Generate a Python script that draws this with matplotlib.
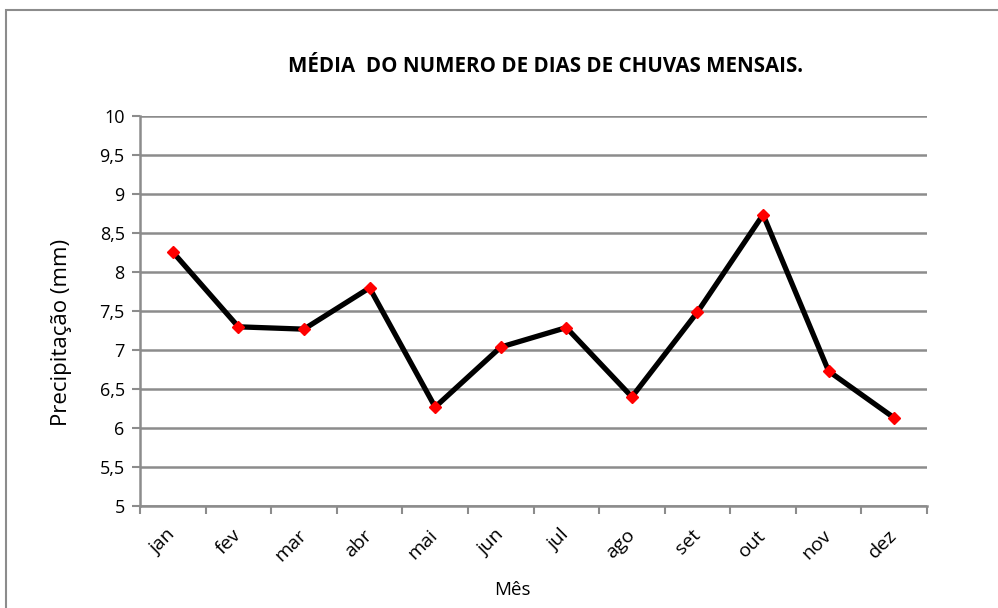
import matplotlib.pyplot as plt
from matplotlib.patches import Rectangle
import numpy as np

# dados
meses = ["jan", "fev", "mar", "abr", "mai", "jun", "jul", "ago", "set", "out", "nov", "dez"]
chuva = [8.26, 7.30, 7.27, 7.80, 6.27, 7.04, 7.29, 6.40, 7.49, 8.74, 6.73, 6.13]
yticks = [5, 5.5, 6, 6.5, 7, 7.5, 8, 8.5, 9, 9.5, 10]
ylabels = ["5", "5,5", "6", "6,5", "7", "7,5", "8", "8,5", "9", "9,5", "10"]

plt.rcParams['font.family'] = ['Open Sans', 'DejaVu Sans']

fig = plt.figure(figsize=(9.98, 6.08), dpi=100)
ax = fig.add_axes([0.1403, 0.1678, 0.7886, 0.6406])

# borda externa do grafico
fig.patches.append(Rectangle((6/998, -0.05), 1.2, 1 - 10/608 + 0.05, transform=fig.transFigure,
                             fill=False, edgecolor="#8c8c8c", linewidth=1.5))

x = np.arange(len(meses))
ax.plot(x, chuva, color="black", linewidth=3.8, zorder=3)
ax.plot(x, chuva, linestyle="none", marker="D", markersize=6.5, color="red", zorder=4)

ax.set_xlim(-0.5, len(meses) - 0.5)
ax.set_ylim(5, 10)
ax.set_yticks(yticks)
ax.set_yticklabels(ylabels)
ax.set_xticks(np.arange(-0.5, len(meses)), labels=[])
ax.set_xticks(x, minor=True)
ax.set_xticklabels(meses, minor=True, rotation=45, ha="right", va="center",
                   rotation_mode="anchor")
for t in ax.get_xticklabels(minor=True):
    t.set_fontsize(14)
ax.tick_params(axis="x", which="minor", length=0, pad=19)
ax.tick_params(axis="x", which="major", length=6, color="#8c8c8c", width=1.5)
ax.tick_params(axis="y", length=6, color="#8c8c8c", width=1.5, pad=5, labelsize=13)

ax.grid(axis="y", color="#8c8c8c", linewidth=1.8, zorder=1)
for s in ["top", "right"]:
    ax.spines[s].set_visible(False)
for s in ["left", "bottom"]:
    ax.spines[s].set_color("#8c8c8c")
    ax.spines[s].set_linewidth(1.8)

fig.text(62/998, 1 - 332/608, "Precipitação (mm)", fontsize=16, rotation=90,
         ha="center", va="center")
fig.text(512/998, 1 - 590/608, "Mês", fontsize=13.5, ha="center", va="center")
fig.text(546/998, 1 - 66/608, "MÉDIA  DO NUMERO DE DIAS DE CHUVAS MENSAIS.",
         fontsize=14.8, fontweight="bold", ha="center", va="center")

plt.savefig("out.png", dpi=100)
